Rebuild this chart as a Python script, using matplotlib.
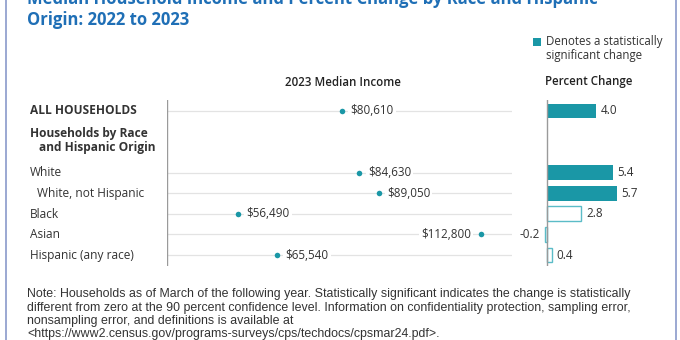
import matplotlib
matplotlib.use("Agg")
import matplotlib.pyplot as plt
from matplotlib.patches import Rectangle
from matplotlib.lines import Line2D

plt.rcParams['font.family'] = ['Open Sans', 'DejaVu Sans']

# ---- data ----
categories = ["ALL HOUSEHOLDS", "White", "White, not Hispanic", "Black", "Asian", "Hispanic (any race)"]
row_index = [0, 3, 4, 5, 6, 7]
income = [80610, 84630, 89050, 56490, 112800, 65540]
income_labels = ["$80,610", "$84,630", "$89,050", "$56,490", "$112,800", "$65,540"]
pct_change = [4.0, 5.4, 5.7, 2.8, -0.2, 0.4]
pct_labels = ["4.0", "5.4", "5.7", "2.8", "-0.2", "0.4"]
significant = [True, True, True, False, False, False]

W, H = 680, 340
fig = plt.figure(figsize=(W / 100, H / 100), dpi=100)

TEAL = "#1a97a6"
OPEN_EDGE = "#5bbcc7"
TEXT = "#333333"
TITLE = "#1f6fb6"
FS = 8.4

def px(x0, y0, x1, y1):
    return [x0 / W, 1 - y1 / H, (x1 - x0) / W, (y1 - y0) / H]

# frame lines
fig.add_artist(Line2D([5.5 / W, 5.5 / W], [0, 1], color="#8a9acb", lw=1.2))
fig.add_artist(Line2D([675.5 / W, 675.5 / W], [0, 1], color="#8a9acb", lw=1.2))

# title (first line partly cropped at the top, as in the reference)
fig.text(27 / W, 1 - (-1) / H, "Median Household Income and Percent Change by Race and Hispanic",
         color=TITLE, fontsize=12, fontweight="bold", va="center", ha="left")
fig.text(27 / W, 1 - 20 / H, "Origin: 2022 to 2023",
         color=TITLE, fontsize=12, fontweight="bold", va="center", ha="left")

# legend
fig.add_artist(Rectangle((533 / W, 1 - 46 / H), 8 / W, 8 / H, transform=fig.transFigure,
                         facecolor=TEAL, edgecolor="none"))
fig.text(546 / W, 1 - 42 / H, "Denotes a statistically", fontsize=8.3, color=TEXT, va="center")
fig.text(546 / W, 1 - 56 / H, "significant change", fontsize=8.3, color=TEXT, va="center")

# headers
fig.text(343 / W, 1 - 82 / H, "2023 Median Income", fontsize=8.3, color="#222222",
         fontweight="semibold", ha="center", va="center")
fig.text(589 / W, 1 - 82 / H, "Percent Change", fontsize=8.3, color="#222222",
         fontweight="semibold", ha="center", va="center")

# ---- income axes ----
ax = fig.add_axes(px(167, 100, 512, 266))
ax.set_xlim(40000, 120000)
ax.set_ylim(7.53, -0.53)
for s in ax.spines.values():
    s.set_visible(False)
ax.set_xticks([])
ax.set_yticks([])
ax.axvline(40000, color="#9a9a9a", lw=1.0)
for r in row_index:
    ax.axhline(r, color="#e3e3e3", lw=0.9, zorder=1)
ax.scatter(income, row_index, s=16, color=TEAL, zorder=4, linewidths=0)
for v, r, lab in zip(income, row_index, income_labels):
    if v > 100000:
        ax.annotate(lab, (v, r), xytext=(-7, 0), textcoords="offset points", ha="right",
                    va="center", fontsize=FS, color=TEXT, zorder=3,
                    bbox=dict(facecolor="white", edgecolor="none", pad=1.5))
    else:
        ax.annotate(lab, (v, r), xytext=(6, 0), textcoords="offset points", ha="left",
                    va="center", fontsize=FS, color=TEXT, zorder=3,
                    bbox=dict(facecolor="white", edgecolor="none", pad=1.5))

# row labels
label_x = {"ALL HOUSEHOLDS": 30, "White, not Hispanic": 37}
for cat, r in zip(categories, row_index):
    ypx = 111 + r * 20.6
    fig.text(label_x.get(cat, 30) / W, 1 - ypx / H, cat, fontsize=FS + 0.2, color=TEXT,
             va="center", ha="left", fontweight="bold" if cat == "ALL HOUSEHOLDS" else "normal")
fig.text(30 / W, 1 - 134 / H, "Households by Race", fontsize=FS + 0.2, color=TEXT,
         va="center", fontweight="bold")
fig.text(39 / W, 1 - 147 / H, "and Hispanic Origin", fontsize=FS + 0.2, color=TEXT,
         va="center", fontweight="bold")

# ---- percent change axes ----
ppu = 12.2
axp = fig.add_axes(px(520, 100, 650, 266))
axp.set_xlim(-(547 - 520) / ppu, (650 - 547) / ppu)
axp.set_ylim(7.53, -0.53)
for s in axp.spines.values():
    s.set_visible(False)
axp.set_xticks([])
axp.set_yticks([])
axp.patch.set_alpha(0)
for v, r, sig, lab in zip(pct_change, row_index, significant, pct_labels):
    if sig:
        axp.barh(r, v, height=0.72, color=TEAL, edgecolor="none", zorder=2)
    else:
        axp.barh(r, v, height=0.72, color="white", edgecolor=OPEN_EDGE, linewidth=1.0, zorder=2)
    if v >= 0:
        axp.annotate(lab, (v, r), xytext=(3.5, 0), textcoords="offset points", ha="left",
                     va="center", fontsize=FS, color=TEXT)
    else:
        axp.annotate(lab, (v, r), xytext=(-3, 0), textcoords="offset points", ha="right",
                     va="center", fontsize=FS, color=TEXT)
axp.axvline(0, color="#9a9a9a", lw=1.0, zorder=3)

# note
note = ["Note: Households as of March of the following year. Statistically significant indicates the change is statistically",
        "different from zero at the 90 percent confidence level. Information on confidentiality protection, sampling error,",
        "nonsampling error, and definitions is available at",
        "<https://www2.census.gov/programs-surveys/cps/techdocs/cpsmar24.pdf>."]
for i, line in enumerate(note):
    fig.text(27 / W, 1 - (294 + i * 13.5) / H, line, fontsize=8.9, color=TEXT,
             va="center", ha="left", family=["Liberation Sans Narrow", "Liberation Sans", "DejaVu Sans"])

fig.savefig("out.png", dpi=100)
